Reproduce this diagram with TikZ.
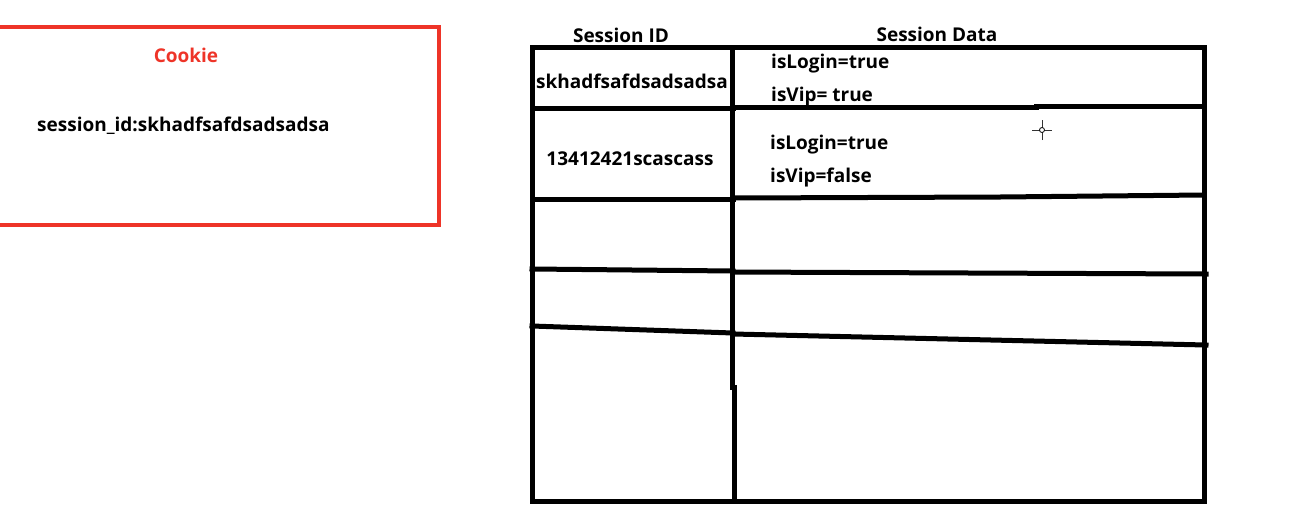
\documentclass[tikz,border=0pt]{standalone}
\usepackage{fontspec}
\setmainfont{Open Sans}
\begin{document}
\begin{tikzpicture}[x=1pt,y=-1pt,
  lbl/.style={font=\bfseries\fontsize{19}{22}\selectfont, inner sep=0pt},
  grid/.style={line width=5pt, line cap=rect},
  cookiebox/.style={draw=cookiered, line width=4.5pt}]
\definecolor{cookiered}{RGB}{238,52,40}
\useasboundingbox (0,0) rectangle (1290,517);
% Cookie
\draw[cookiebox] (-10,27) rectangle (439,225);
\node[lbl, text=cookiered] (cookie) at (186,55) {Cookie};
\node[lbl, anchor=west] (sid) at (37,126) {session\_id:skhadfsafdsadsadsa};
% table frame
\draw[grid] (532,47) rectangle (1204,501);
\draw[grid] (732,47) -- (732,387);
\draw[grid] (734,387) -- (734,501);
% row lines
\draw[grid] (532,108) -- (733,108);
\draw[grid] (733,107) -- (1036,107) -- (1036,106) -- (1204,106);
\draw[grid] (532,199) -- (733,199);
\draw[grid] (733,198) -- (1000,197) -- (1204,195);
\draw[grid] (532,269) -- (733,271);
\draw[grid] (733,272) -- (1206,274);
\draw[grid] (532,326) -- (733,333);
\draw[grid] (733,334) -- (1206,345);
% headers
\node[lbl] (h1) at (621,35) {Session ID};
\node[lbl] (h2) at (937,34) {Session Data};
% cells
\node[lbl, fill=white, inner sep=1pt] (id1) at (632,81) {skhadfsafdsadsadsa};
\node[lbl] (id2) at (630,159) {13412421scascass};
\node[lbl, anchor=west] (d1a) at (771,64) {isLogin=true};
\node[lbl, anchor=west] (d1b) at (771,97) {isVip= true};
\node[lbl, anchor=west] (d2a) at (770,145) {isLogin=true};
\node[lbl, anchor=west] (d2b) at (770,178) {isVip=false};
% cursor
\coordinate (cur) at (1042,130);
\draw[line width=1pt, black!80] ([xshift=-10pt]cur) -- ([xshift=10pt]cur) ([yshift=-10pt]cur) -- ([yshift=10pt]cur);
\draw[line width=0.8pt, fill=white] (cur) circle (2.5pt);
\end{tikzpicture}
\end{document}
